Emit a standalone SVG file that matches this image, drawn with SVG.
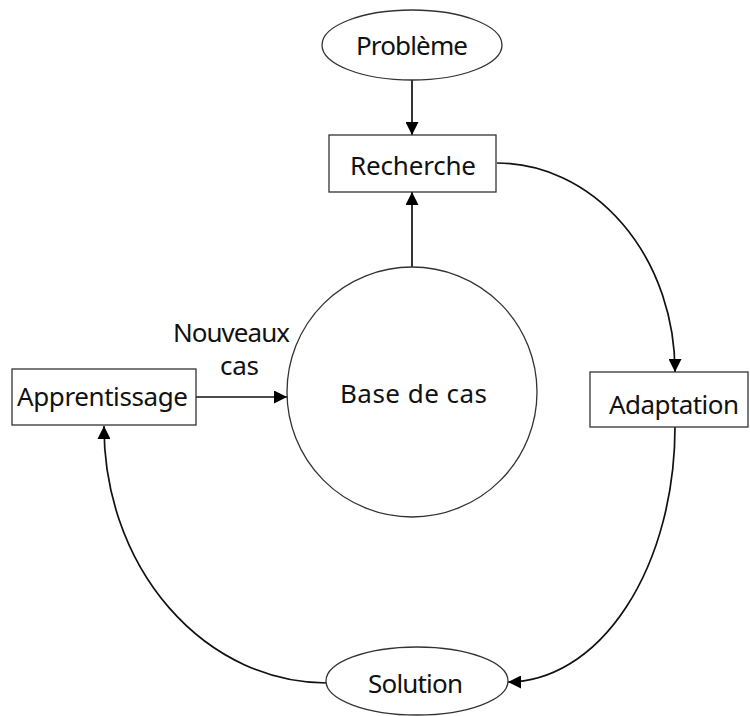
<svg xmlns="http://www.w3.org/2000/svg" width="750" height="716" viewBox="0 0 750 716">
<style>
.shape{fill:#fff;stroke:#333;stroke-width:1.3}
.edge{fill:none;stroke:#111;stroke-width:1.7}
text{font-family:"Noto Sans","DejaVu Sans",sans-serif;font-size:26px;fill:#111;text-anchor:middle}
</style>
<defs>
<marker id="arr" viewBox="0 0 13 13" refX="13" refY="6.5" markerWidth="13" markerHeight="13" markerUnits="userSpaceOnUse" orient="auto">
<path d="M0,0 L13,6.5 L0,13 z" fill="#000"/>
</marker>
</defs>
<rect width="750" height="716" fill="#fff"/>
<g id="connectors">
<path class="edge" d="M412,80 L412,135" marker-end="url(#arr)"/>
<path class="edge" d="M412,267 L412,192" marker-end="url(#arr)"/>
<path class="edge" d="M497,163 A178,209 0 0 1 675,372" marker-end="url(#arr)"/>
<path class="edge" d="M675,427 A167,255 0 0 1 508,682" marker-end="url(#arr)"/>
<path class="edge" d="M327,683 A223,256 0 0 1 104,426" marker-end="url(#arr)"/>
<path class="edge" d="M196,397 L287,397" marker-end="url(#arr)"/>
</g>
<g id="probleme">
<ellipse class="shape" cx="412" cy="45" rx="90" ry="35"/>
<text x="412" y="55" textLength="112">Problème</text>
</g>
<g id="recherche">
<rect class="shape" x="329" y="135" width="167" height="57"/>
<text x="413" y="175" textLength="126">Recherche</text>
</g>
<g id="base">
<circle class="shape" cx="412" cy="392" r="125"/>
<text x="413.5" y="403" textLength="147">Base de cas</text>
</g>
<g id="apprentissage">
<rect class="shape" x="12" y="369" width="184" height="56"/>
<text x="102.5" y="406" textLength="171">Apprentissage</text>
</g>
<g id="adaptation">
<rect class="shape" x="590" y="372" width="158" height="55"/>
<text x="674" y="414" textLength="130">Adaptation</text>
</g>
<g id="solution">
<ellipse class="shape" cx="417" cy="681" rx="91" ry="34"/>
<text x="415.5" y="693" textLength="95">Solution</text>
</g>
<g id="label-nouveaux">
<text x="231.5" y="342" textLength="117">Nouveaux</text>
<text x="239.5" y="375" textLength="39">cas</text>
</g>
</svg>
